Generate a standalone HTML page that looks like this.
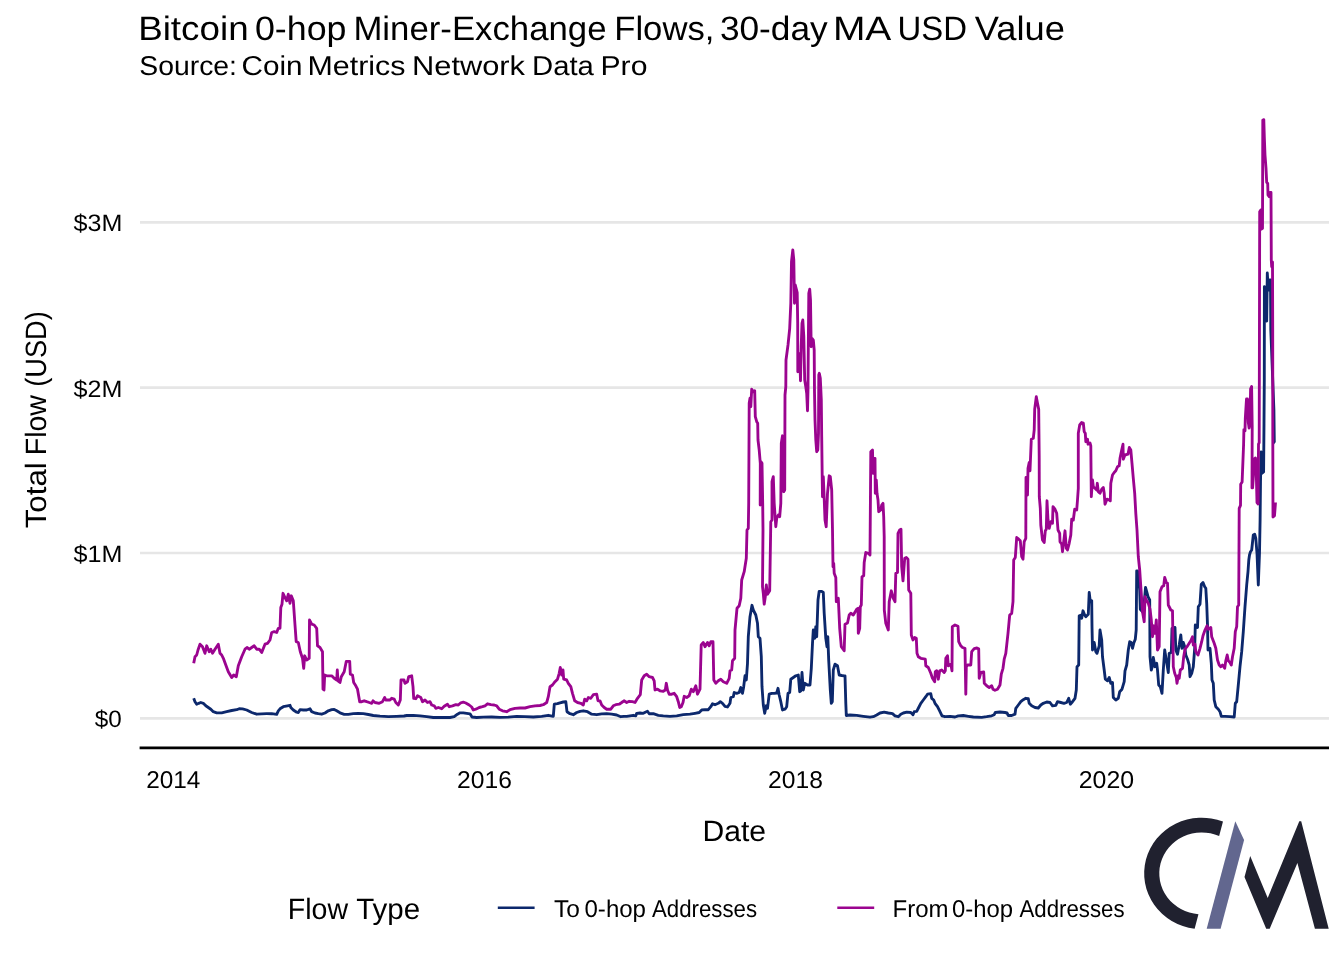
<!DOCTYPE html>
<html lang="en">
<head>
<meta charset="utf-8">
<title>Bitcoin 0-hop Miner-Exchange Flows</title>
<style>
html,body{margin:0;padding:0;background:#ffffff;}
body{width:1344px;height:960px;overflow:hidden;}
svg{display:block;will-change:transform;}
text{font-family:"Liberation Sans",sans-serif;fill:#000000;text-rendering:geometricPrecision;}
</style>
</head>
<body>
<svg width="1344" height="960" viewBox="0 0 1344 960">
<rect x="0" y="0" width="1344" height="960" fill="#ffffff"/>

<g stroke="#e6e6e6" stroke-width="2.7" fill="none">
<line x1="140" y1="222.4" x2="1329" y2="222.4"/>
<line x1="140" y1="387.7" x2="1329" y2="387.7"/>
<line x1="140" y1="553.0" x2="1329" y2="553.0"/>
<line x1="140" y1="718.4" x2="1329" y2="718.4"/>
</g>
<path d="M193.7,698.3 L195.0,701.7 L196.7,704.2 L198.7,703.3 L200.8,702.5 L203.3,703.3 L205.8,705.8 L208.3,707.5 L210.8,709.2 L213.3,711.7 L216.7,712.8 L221.7,712.8 L226.7,711.7 L231.7,710.5 L236.7,709.7 L239.2,708.7 L242.5,708.8 L246.7,710.0 L251.7,712.5 L256.7,714.2 L261.7,713.8 L266.7,713.7 L271.7,713.7 L276.7,714.3 L278.3,710.8 L280.0,708.8 L283.3,706.7 L287.5,705.8 L290.0,705.3 L290.8,707.5 L293.3,710.0 L296.7,712.2 L298.3,712.5 L300.0,709.7 L303.3,710.0 L306.7,710.0 L310.0,708.8 L311.7,711.7 L315.0,713.0 L318.3,713.7 L321.7,714.2 L325.0,713.0 L328.3,710.8 L331.7,709.7 L334.2,709.5 L336.7,710.8 L340.0,712.8 L344.2,714.3 L348.3,714.3 L353.3,713.7 L358.3,713.3 L363.3,713.7 L368.3,714.5 L373.3,715.5 L380.0,716.2 L388.3,716.7 L396.7,716.3 L404.0,716.0 L406.7,715.5 L413.3,715.3 L420.0,715.8 L426.7,716.7 L433.3,717.5 L441.7,717.5 L450.0,717.5 L454.2,716.7 L457.5,714.2 L460.0,712.8 L463.3,712.8 L466.7,713.3 L470.0,713.8 L472.0,717.0 L476.7,717.5 L483.3,717.2 L491.7,717.0 L500.0,717.3 L508.3,717.2 L516.7,716.3 L525.0,716.7 L533.3,717.0 L541.7,716.3 L548.3,715.3 L550.8,715.8 L553.3,716.3 L554.3,704.2 L557.5,703.7 L560.0,702.8 L563.3,702.0 L565.8,701.7 L567.0,711.7 L570.0,713.7 L573.3,714.7 L576.7,712.5 L580.0,711.3 L583.3,710.8 L587.5,711.7 L591.7,714.2 L596.7,714.7 L601.7,713.8 L606.7,713.7 L611.7,714.2 L616.7,715.0 L620.8,716.7 L624.0,716.3 L626.7,716.3 L633.3,715.3 L635.8,715.8 L636.7,713.3 L640.0,713.0 L643.3,713.3 L645.8,712.0 L647.5,711.3 L649.2,713.7 L653.3,713.7 L658.3,715.3 L663.3,715.8 L670.0,716.3 L676.7,715.8 L683.3,714.7 L690.0,714.2 L695.0,713.3 L699.2,712.5 L701.7,710.0 L705.0,709.7 L708.3,709.7 L710.8,706.7 L712.5,703.8 L715.0,704.7 L718.3,703.3 L720.3,701.7 L722.5,703.3 L725.0,706.3 L727.5,707.0 L730.0,703.3 L730.8,697.5 L733.3,696.7 L734.2,692.5 L736.7,693.3 L739.2,692.5 L740.8,687.5 L742.5,693.3 L743.7,686.7 L745.0,675.8 L746.3,680.0 L747.5,663.3 L748.3,636.7 L750.0,616.7 L752.0,605.3 L753.3,610.0 L755.8,615.0 L757.5,623.3 L758.3,636.7 L760.0,638.3 L761.3,656.7 L762.0,686.7 L763.3,705.0 L764.7,713.3 L766.3,705.8 L767.5,708.3 L769.2,694.2 L771.7,693.3 L774.2,693.3 L776.7,693.0 L778.0,688.3 L779.2,695.0 L780.8,701.7 L782.5,710.0 L785.0,709.2 L786.7,706.7 L788.0,693.3 L789.7,692.5 L790.8,679.2 L793.3,677.5 L795.8,675.8 L798.3,675.0 L799.7,691.7 L800.8,690.8 L802.0,672.5 L803.3,690.0 L804.7,683.3 L807.5,685.0 L810.0,685.0 L811.3,668.3 L812.5,643.3 L813.3,630.0 L814.7,638.3 L815.8,626.7 L816.7,636.7 L818.0,600.0 L819.2,591.3 L821.7,591.3 L823.3,592.5 L824.2,613.3 L825.8,638.3 L827.0,646.7 L827.8,636.7 L828.7,660.0 L830.3,690.0 L831.3,703.3 L832.3,701.7 L833.3,670.0 L835.0,664.2 L837.5,665.8 L839.2,675.0 L841.7,675.5 L844.0,675.8 L845.0,675.8 L845.8,703.3 L846.3,715.5 L850.0,715.0 L856.7,715.3 L863.3,716.3 L870.0,717.2 L873.3,716.7 L876.7,715.0 L880.0,713.0 L884.2,712.2 L888.3,713.0 L892.5,713.7 L895.0,715.8 L898.3,716.7 L900.8,714.2 L903.3,713.0 L906.7,712.2 L910.8,712.5 L913.0,714.7 L914.2,711.7 L916.7,711.3 L918.7,707.5 L920.8,703.3 L923.3,700.0 L925.8,696.7 L927.5,694.2 L930.8,693.7 L931.7,698.3 L933.7,700.0 L935.0,703.3 L937.5,706.7 L940.0,711.7 L942.0,715.8 L945.0,716.7 L950.0,716.3 L955.0,717.0 L958.3,715.8 L963.3,715.5 L968.3,716.3 L973.3,717.0 L981.7,717.3 L986.7,716.7 L991.7,715.8 L994.2,714.7 L995.3,712.5 L1000.0,712.0 L1005.0,712.5 L1007.0,713.0 L1008.3,715.5 L1011.7,715.5 L1015.0,714.2 L1015.8,708.3 L1018.3,705.0 L1020.8,701.7 L1023.3,699.7 L1025.8,698.3 L1028.3,698.7 L1029.2,703.3 L1031.7,705.8 L1035.0,707.5 L1038.3,708.0 L1040.8,705.0 L1043.3,703.3 L1046.7,702.0 L1050.0,702.5 L1052.5,705.8 L1055.8,705.3 L1057.5,701.7 L1060.8,702.5 L1064.0,703.3 L1066.7,702.5 L1068.7,698.3 L1070.3,704.2 L1072.5,701.7 L1075.0,698.3 L1076.3,690.0 L1077.0,666.7 L1078.7,665.0 L1079.2,615.8 L1081.3,615.0 L1081.7,618.3 L1083.0,610.8 L1084.7,615.0 L1085.8,616.7 L1088.3,614.2 L1089.2,592.5 L1090.3,601.7 L1091.7,600.8 L1092.0,626.7 L1092.5,650.0 L1094.2,642.5 L1095.8,651.7 L1097.0,653.3 L1099.2,645.8 L1100.0,630.0 L1101.7,640.0 L1102.5,656.7 L1104.2,670.0 L1105.3,679.2 L1107.5,680.8 L1109.2,677.5 L1110.8,683.3 L1112.5,682.5 L1113.3,697.5 L1115.8,700.0 L1118.3,698.3 L1119.7,691.7 L1122.0,689.2 L1124.2,681.7 L1125.0,670.8 L1126.7,665.0 L1128.3,650.0 L1129.7,641.7 L1131.3,642.5 L1132.5,648.3 L1133.7,643.3 L1135.3,639.2 L1136.2,630.0 L1136.7,570.8 L1137.5,570.8 L1138.3,575.0 L1139.7,590.0 L1140.3,609.2 L1142.5,611.7 L1144.2,603.3 L1145.5,587.5 L1146.7,591.7 L1148.0,596.7 L1149.7,600.0 L1150.0,656.7 L1151.3,670.0 L1152.5,665.8 L1153.3,657.5 L1155.0,666.7 L1156.7,663.3 L1157.5,670.0 L1158.7,685.0 L1160.3,686.7 L1162.0,693.3 L1163.3,670.0 L1164.7,650.0 L1166.3,660.0 L1168.3,672.5 L1169.2,653.3 L1171.3,652.5 L1172.0,628.3 L1175.0,627.5 L1175.8,650.0 L1177.5,654.2 L1179.2,645.0 L1180.8,635.0 L1182.0,648.3 L1183.3,642.5 L1184.7,646.7 L1185.8,655.0 L1187.5,659.2 L1189.2,665.0 L1190.0,676.7 L1191.7,673.3 L1193.3,666.7 L1194.7,648.3 L1195.3,625.0 L1197.5,627.5 L1198.3,606.7 L1200.0,604.2 L1201.3,584.2 L1203.0,582.5 L1204.7,586.7 L1205.8,588.3 L1206.7,603.3 L1207.5,625.0 L1208.0,650.0 L1210.0,648.3 L1211.3,663.3 L1212.0,680.0 L1213.3,683.3 L1214.2,700.0 L1215.8,706.7 L1218.3,709.2 L1220.0,711.7 L1221.3,716.3 L1225.0,716.3 L1230.0,716.7 L1234.2,717.0 L1235.3,703.3 L1236.7,701.7 L1238.3,685.0 L1240.0,666.7 L1241.7,651.7 L1243.3,631.7 L1245.0,606.7 L1246.7,585.0 L1248.0,571.7 L1248.8,560.0 L1249.5,555.0 L1250.5,551.7 L1251.7,550.0 L1253.3,535.0 L1254.7,534.2 L1255.8,538.3 L1257.0,553.3 L1258.3,585.0 L1259.5,553.0 L1260.1,520.0 L1260.5,482.0 L1261.1,452.0 L1261.8,473.3 L1263.6,471.9 L1264.0,423.8 L1264.3,380.0 L1264.4,286.7 L1265.3,320.0 L1266.7,321.0 L1267.3,273.0 L1268.3,290.0 L1269.7,280.0 L1270.5,280.0 L1270.8,330.0 L1273.9,410.0 L1274.3,442.5 L1275.0,443.0" fill="none" stroke="#0c286c" stroke-width="2.85" stroke-linejoin="round" stroke-linecap="butt"/>
<path d="M193.7,663.3 L195.0,656.7 L196.7,655.0 L198.0,650.0 L200.0,644.2 L202.5,646.7 L205.0,653.3 L206.7,645.8 L209.2,651.7 L210.8,649.2 L212.5,653.3 L215.0,649.2 L218.3,644.2 L220.0,653.3 L221.7,655.0 L223.7,659.2 L225.8,665.0 L228.3,671.7 L231.7,677.5 L233.7,675.0 L236.3,676.7 L238.3,665.8 L241.7,656.7 L245.0,649.2 L247.0,647.5 L249.2,649.2 L251.7,647.5 L254.2,645.8 L256.7,649.2 L259.2,649.2 L261.7,652.5 L265.0,644.2 L267.5,643.3 L270.0,640.0 L271.7,632.5 L274.2,631.7 L276.7,632.5 L278.3,628.3 L280.0,628.3 L280.8,607.5 L282.0,604.2 L283.0,593.3 L285.0,597.5 L286.7,600.8 L288.3,594.2 L290.0,603.3 L291.3,595.8 L293.3,600.8 L295.0,625.0 L296.2,641.7 L298.3,642.5 L300.3,651.7 L302.5,658.3 L303.7,668.3 L304.7,655.8 L306.7,660.0 L309.2,658.3 L309.5,620.0 L311.7,624.2 L314.2,625.0 L316.7,628.3 L317.5,645.8 L320.0,647.5 L322.5,651.7 L323.0,689.2 L324.0,690.0 L324.7,675.0 L326.7,675.8 L329.2,675.8 L331.7,675.8 L334.2,678.3 L336.7,680.0 L337.3,670.0 L338.0,680.8 L340.0,682.5 L341.3,676.7 L344.2,671.7 L346.3,661.3 L349.7,661.3 L350.3,674.2 L352.5,675.0 L353.7,682.5 L355.8,685.8 L357.5,689.2 L359.7,701.7 L361.7,701.7 L364.2,700.8 L366.7,701.7 L369.2,702.5 L371.7,703.3 L373.0,700.8 L375.0,702.5 L379.2,703.3 L382.5,701.7 L384.7,697.5 L385.8,700.0 L390.0,700.0 L391.7,698.3 L394.2,699.2 L395.8,702.5 L398.3,705.0 L400.3,700.0 L401.0,680.0 L404.0,680.0 L405.0,683.3 L407.5,681.7 L408.7,676.7 L411.7,675.8 L413.0,686.7 L413.7,698.3 L415.8,698.7 L417.5,695.8 L420.8,697.5 L422.5,701.7 L425.0,700.0 L427.5,702.5 L430.0,701.7 L431.7,705.0 L434.2,705.8 L435.8,708.3 L438.3,707.5 L441.7,708.7 L444.2,706.3 L447.5,704.2 L449.2,706.7 L452.5,705.8 L455.8,704.7 L458.3,705.0 L460.8,702.8 L463.3,702.2 L465.8,703.0 L469.2,705.0 L471.7,707.0 L473.3,710.0 L475.8,709.2 L479.2,707.5 L482.5,706.7 L485.0,705.8 L487.5,703.8 L490.8,704.7 L494.2,705.0 L496.7,705.8 L499.2,709.2 L502.5,710.8 L506.7,711.7 L510.0,709.7 L515.0,708.3 L520.0,708.0 L525.0,708.0 L530.0,706.7 L535.0,705.8 L540.0,705.5 L543.3,704.7 L546.7,702.5 L548.3,696.7 L550.0,686.7 L552.5,685.0 L555.0,681.7 L557.5,679.2 L559.2,673.3 L560.3,667.5 L561.7,675.0 L563.0,670.0 L563.7,679.2 L566.7,680.0 L568.3,683.3 L570.8,686.7 L572.5,693.3 L574.7,700.8 L577.5,702.5 L580.8,703.3 L583.3,705.0 L584.7,699.2 L586.7,700.8 L588.3,697.5 L590.8,698.3 L593.3,694.7 L596.7,694.2 L598.0,700.8 L600.0,700.8 L601.7,705.0 L604.2,707.5 L606.7,709.2 L610.8,709.2 L613.3,705.8 L615.8,704.7 L619.2,704.2 L621.7,702.5 L624.0,700.8 L626.7,702.5 L629.2,701.3 L632.5,701.7 L635.0,702.5 L637.5,698.3 L640.3,694.7 L641.7,680.0 L644.2,675.8 L646.7,674.2 L649.2,676.7 L652.5,677.5 L654.2,680.8 L655.0,690.0 L657.5,689.2 L660.0,690.8 L663.3,691.3 L665.3,690.0 L666.3,683.3 L667.5,690.0 L669.2,694.2 L671.7,694.2 L674.2,693.3 L676.7,696.7 L678.3,701.7 L679.7,707.5 L681.3,706.7 L683.0,702.5 L684.2,696.3 L686.7,697.5 L689.2,695.8 L691.3,689.2 L693.3,691.7 L695.8,685.8 L697.5,694.2 L700.0,689.2 L701.2,645.0 L703.3,642.5 L705.0,646.7 L707.5,642.5 L709.2,645.8 L710.8,641.7 L713.0,641.7 L713.8,680.0 L715.8,683.3 L718.3,680.8 L720.8,679.2 L723.3,681.7 L726.7,683.3 L729.2,678.3 L730.0,670.8 L731.7,670.0 L732.5,660.8 L734.7,658.3 L735.0,630.0 L737.0,608.3 L739.2,605.8 L740.8,598.3 L741.7,580.0 L744.2,571.7 L746.3,558.3 L747.0,530.0 L748.3,528.3 L748.7,503.3 L749.2,403.3 L750.0,398.3 L750.8,406.7 L751.7,389.2 L753.3,391.7 L754.7,390.8 L755.3,416.7 L756.7,421.7 L757.7,423.3 L758.0,440.0 L759.2,450.0 L760.3,463.3 L760.2,505.0 L761.0,461.7 L762.0,463.3 L762.7,503.3 L763.0,530.0 L762.5,586.7 L763.3,593.3 L764.2,604.2 L765.3,596.7 L766.3,585.0 L767.5,594.2 L769.7,590.8 L770.8,521.7 L772.0,520.0 L772.0,481.7 L773.3,476.7 L774.2,503.3 L775.8,526.7 L776.7,518.3 L778.3,515.0 L779.7,516.7 L780.8,503.3 L781.3,443.3 L782.5,435.8 L783.7,491.7 L784.7,490.0 L785.0,395.0 L785.8,386.7 L786.0,360.0 L788.0,345.0 L789.7,328.3 L790.8,303.3 L791.5,261.7 L792.8,250.0 L793.8,260.0 L794.5,303.3 L795.3,285.0 L797.2,292.5 L797.7,323.3 L797.8,371.7 L798.5,353.3 L799.2,365.0 L799.8,357.5 L800.5,380.8 L801.2,346.7 L802.0,323.3 L802.8,320.0 L803.8,336.7 L804.7,380.0 L805.8,386.7 L806.7,393.3 L807.5,410.8 L808.0,390.0 L808.3,346.7 L808.8,293.3 L809.7,289.2 L810.5,300.0 L811.2,346.7 L812.0,338.3 L813.3,340.0 L814.2,350.0 L814.5,391.7 L815.0,420.0 L815.8,440.0 L816.7,451.7 L817.8,450.0 L818.5,433.3 L818.8,375.0 L819.3,373.3 L820.3,378.3 L821.3,400.0 L821.7,436.7 L822.2,476.7 L822.5,496.7 L823.3,476.7 L824.2,498.3 L825.0,520.0 L826.2,526.7 L827.5,493.3 L829.2,475.8 L830.3,476.7 L831.7,490.0 L832.5,530.0 L833.0,566.7 L833.7,563.3 L834.2,573.3 L835.8,577.5 L836.3,601.7 L838.3,598.3 L839.7,628.3 L841.3,646.7 L844.2,650.8 L845.0,624.2 L847.5,623.0 L849.2,615.0 L850.8,613.3 L853.3,615.0 L856.7,609.2 L858.0,608.3 L858.3,633.3 L859.7,628.3 L860.3,606.7 L861.3,605.0 L862.0,576.7 L863.7,575.8 L864.2,562.5 L865.8,552.5 L868.3,553.3 L870.0,555.0 L870.8,451.7 L872.5,450.0 L873.0,473.3 L874.2,458.3 L875.0,458.3 L875.3,493.3 L876.3,480.0 L877.0,493.3 L878.0,500.0 L878.7,511.7 L880.8,510.0 L881.7,505.0 L883.0,503.3 L883.7,516.7 L884.2,536.7 L884.3,610.0 L885.8,623.3 L888.3,630.0 L889.2,601.7 L891.3,590.8 L893.3,598.3 L895.0,601.7 L895.8,573.3 L897.5,572.5 L898.0,533.3 L899.7,530.0 L901.0,529.2 L901.7,566.7 L903.0,580.8 L904.7,558.3 L906.3,557.5 L908.0,559.2 L908.7,590.0 L910.8,593.3 L911.3,635.0 L913.0,640.0 L914.7,637.5 L916.3,638.3 L917.0,653.3 L918.3,656.7 L920.8,658.3 L925.3,659.2 L925.8,665.8 L928.3,667.5 L930.8,673.3 L932.5,678.3 L934.7,681.7 L935.3,671.7 L936.7,670.8 L938.3,679.2 L939.7,670.8 L941.7,670.0 L944.2,672.5 L945.3,670.8 L945.8,658.3 L947.5,655.8 L948.3,665.8 L950.8,664.2 L952.0,670.8 L952.3,626.7 L955.0,625.0 L958.0,626.3 L958.7,641.7 L960.8,645.8 L962.5,647.5 L965.0,648.3 L965.8,694.2 L966.3,666.7 L967.5,665.0 L970.8,665.0 L971.7,651.7 L974.2,648.7 L977.0,648.0 L978.7,648.7 L979.2,678.3 L980.8,672.5 L983.7,672.0 L984.3,683.3 L986.7,685.8 L989.2,687.5 L991.7,685.8 L993.0,689.2 L995.0,690.3 L997.5,689.2 L1000.0,685.0 L1001.3,674.2 L1003.0,668.3 L1004.2,659.2 L1005.8,653.3 L1008.0,633.3 L1009.7,615.0 L1011.7,613.3 L1013.0,601.7 L1013.7,560.0 L1015.3,557.5 L1016.7,537.5 L1018.7,539.2 L1020.3,540.8 L1021.7,556.7 L1023.0,559.2 L1024.2,541.7 L1025.8,538.3 L1026.0,477.5 L1027.5,495.0 L1028.0,468.3 L1029.2,462.5 L1030.0,470.8 L1031.3,439.2 L1033.3,438.3 L1034.2,430.0 L1034.7,409.2 L1036.3,396.7 L1037.5,403.3 L1038.7,409.2 L1039.2,456.7 L1039.3,496.7 L1040.3,508.3 L1040.8,525.0 L1042.5,540.0 L1044.2,542.5 L1045.3,530.8 L1046.3,529.2 L1047.0,500.8 L1048.0,520.0 L1049.2,528.3 L1050.8,521.7 L1052.5,523.3 L1053.0,506.7 L1055.0,509.2 L1056.7,513.3 L1058.0,530.0 L1059.7,533.3 L1060.0,541.7 L1061.7,544.2 L1062.5,551.7 L1063.7,541.7 L1065.0,530.8 L1066.3,548.3 L1067.5,550.0 L1069.2,543.3 L1070.8,535.0 L1071.7,519.2 L1073.3,520.0 L1074.7,509.2 L1076.7,510.0 L1077.5,500.0 L1078.3,488.3 L1078.3,433.3 L1079.7,425.0 L1081.7,422.5 L1083.3,423.0 L1084.2,431.7 L1085.3,433.3 L1085.8,441.7 L1087.5,439.2 L1088.0,444.2 L1090.0,443.0 L1090.8,445.8 L1091.3,496.7 L1092.5,480.0 L1093.3,486.7 L1095.0,488.3 L1096.7,490.0 L1097.3,483.3 L1098.3,491.7 L1100.0,493.3 L1101.7,489.2 L1103.3,487.5 L1104.2,493.3 L1105.0,504.2 L1107.0,499.2 L1109.2,500.0 L1110.3,500.8 L1110.8,483.3 L1112.5,475.0 L1114.2,472.5 L1115.8,470.8 L1117.5,466.7 L1119.2,465.8 L1120.0,458.3 L1121.7,450.0 L1123.0,444.2 L1123.3,459.2 L1125.0,455.0 L1128.0,454.2 L1129.3,447.5 L1130.8,450.0 L1132.0,463.3 L1133.3,478.3 L1134.7,493.3 L1135.8,513.3 L1137.0,530.0 L1138.3,556.7 L1139.7,570.0 L1140.8,586.7 L1142.5,611.7 L1144.2,621.7 L1145.0,596.7 L1146.7,600.8 L1148.3,603.3 L1150.0,609.2 L1151.3,620.0 L1152.5,636.7 L1153.7,625.8 L1155.0,633.3 L1156.3,620.0 L1157.5,650.0 L1159.2,646.7 L1160.0,591.7 L1162.0,586.7 L1163.7,585.8 L1164.7,577.5 L1166.3,582.5 L1167.5,583.3 L1168.3,605.0 L1170.8,610.0 L1172.5,610.8 L1173.3,666.7 L1174.7,673.3 L1176.3,677.5 L1177.0,683.3 L1178.3,675.8 L1179.2,678.3 L1180.3,670.0 L1182.5,668.3 L1183.7,656.7 L1185.0,649.2 L1187.0,646.7 L1189.2,643.3 L1190.8,640.8 L1192.5,636.7 L1193.3,645.0 L1195.0,644.2 L1195.8,651.7 L1198.0,655.0 L1200.0,648.3 L1201.7,641.7 L1203.0,635.8 L1205.0,630.0 L1207.0,625.8 L1208.3,629.2 L1210.8,627.5 L1211.7,636.7 L1214.2,643.3 L1215.8,648.3 L1217.5,660.0 L1219.2,665.0 L1220.8,666.7 L1222.5,665.0 L1224.7,668.3 L1225.8,660.8 L1227.2,655.0 L1228.3,660.8 L1230.0,662.5 L1231.3,665.0 L1232.5,656.7 L1234.2,648.3 L1235.3,631.7 L1236.7,626.7 L1237.5,606.7 L1238.7,605.0 L1239.2,508.3 L1240.5,505.4 L1240.7,484.3 L1242.1,482.1 L1243.6,444.2 L1243.9,429.6 L1245.0,431.0 L1245.3,418.6 L1246.5,399.0 L1247.5,399.0 L1248.3,422.3 L1249.1,428.1 L1249.9,423.8 L1250.6,388.8 L1251.6,386.6 L1252.2,426.7 L1252.0,487.9 L1252.6,487.9 L1253.4,476.3 L1254.4,458.8 L1255.5,458.0 L1256.3,473.3 L1257.0,502.5 L1258.2,504.0 L1258.5,444.2 L1259.2,442.7 L1259.7,211.7 L1260.8,210.0 L1261.3,229.2 L1262.5,228.3 L1262.8,120.0 L1263.8,119.7 L1264.3,136.7 L1265.0,155.0 L1266.0,168.3 L1266.7,182.5 L1267.7,183.3 L1268.0,195.0 L1269.2,196.7 L1270.0,192.5 L1271.0,192.5 L1271.3,260.0 L1271.7,266.7 L1272.5,262.0 L1272.7,330.0 L1272.8,438.0 L1273.0,517.0 L1274.5,515.6 L1275.5,502.5" fill="none" stroke="#9b048f" stroke-width="2.85" stroke-linejoin="round" stroke-linecap="butt"/>
<line x1="139.6" y1="747.9" x2="1329" y2="747.9" stroke="#000000" stroke-width="2.6"/>
<line x1="497.8" y1="907.8" x2="534.6" y2="907.8" stroke="#0c286c" stroke-width="2.5"/>
<line x1="837.3" y1="907.8" x2="874.2" y2="907.8" stroke="#9b048f" stroke-width="2.5"/>
<path fill="#20212f" d="M1222.99,821.61 A57.6,55.7 0 1 0 1194.62,928.66 L1198.46,914.17 A42.5,40.9 0 1 1 1219.16,836.07 Z"/>
<polygon points="1235.3,821.2 1244.1,840.1 1220.6,928.75 1206.7,928.75" fill="#62678f"/>
<polygon points="1250.2,855.9 1244.5,877.1 1266.2,928.75 1269.7,928.75 1297.4,862.9 1314.9,928.75 1328.7,928.75 1301.2,821.2 1299.3,821.2 1267.7,897.9" fill="#20212f"/>
<text x="138.15" y="39.60" font-size="33.80" textLength="110.50" lengthAdjust="spacingAndGlyphs">Bitcoin</text>
<text x="254.90" y="39.60" font-size="33.80" textLength="91.60" lengthAdjust="spacingAndGlyphs">0-hop</text>
<text x="353.40" y="39.60" font-size="33.80" textLength="253.10" lengthAdjust="spacingAndGlyphs">Miner-Exchange</text>
<text x="614.25" y="39.60" font-size="33.80" textLength="100.15" lengthAdjust="spacingAndGlyphs">Flows,</text>
<text x="719.90" y="39.60" font-size="33.80" textLength="107.85" lengthAdjust="spacingAndGlyphs">30-day</text>
<text x="832.90" y="39.60" font-size="33.80" textLength="58.50" lengthAdjust="spacingAndGlyphs">MA</text>
<text x="897.50" y="39.60" font-size="33.80" textLength="69.50" lengthAdjust="spacingAndGlyphs">USD</text>
<text x="974.75" y="39.60" font-size="33.80" textLength="90.15" lengthAdjust="spacingAndGlyphs">Value</text>
<text x="139.25" y="75.40" font-size="27.20" textLength="97.75" lengthAdjust="spacingAndGlyphs">Source:</text>
<text x="241.50" y="75.40" font-size="27.20" textLength="61.00" lengthAdjust="spacingAndGlyphs">Coin</text>
<text x="307.50" y="75.40" font-size="27.20" textLength="98.00" lengthAdjust="spacingAndGlyphs">Metrics</text>
<text x="412.00" y="75.40" font-size="27.20" textLength="113.00" lengthAdjust="spacingAndGlyphs">Network</text>
<text x="532.00" y="75.40" font-size="27.20" textLength="61.85" lengthAdjust="spacingAndGlyphs">Data</text>
<text x="600.50" y="75.40" font-size="27.20" textLength="46.90" lengthAdjust="spacingAndGlyphs">Pro</text>
<text x="73.55" y="230.70" font-size="23.80" textLength="48.85" lengthAdjust="spacingAndGlyphs">$3M</text>
<text x="73.55" y="396.90" font-size="23.80" textLength="48.85" lengthAdjust="spacingAndGlyphs">$2M</text>
<text x="73.55" y="562.20" font-size="23.80" textLength="48.85" lengthAdjust="spacingAndGlyphs">$1M</text>
<text x="94.85" y="726.50" font-size="23.80" textLength="27.00" lengthAdjust="spacingAndGlyphs">$0</text>
<text x="146.25" y="788.20" font-size="24.30" textLength="54.15" lengthAdjust="spacingAndGlyphs">2014</text>
<text x="457.10" y="788.20" font-size="24.30" textLength="54.80" lengthAdjust="spacingAndGlyphs">2016</text>
<text x="768.10" y="788.20" font-size="24.30" textLength="54.80" lengthAdjust="spacingAndGlyphs">2018</text>
<text x="1078.75" y="788.20" font-size="24.30" textLength="55.40" lengthAdjust="spacingAndGlyphs">2020</text>
<text x="702.50" y="840.90" font-size="29.40" textLength="63.60" lengthAdjust="spacingAndGlyphs">Date</text>
<text x="287.75" y="918.70" font-size="29.40" textLength="60.25" lengthAdjust="spacingAndGlyphs">Flow</text>
<text x="356.15" y="918.70" font-size="29.40" textLength="63.95" lengthAdjust="spacingAndGlyphs">Type</text>
<text x="554.00" y="916.50" font-size="24.30" textLength="25.85" lengthAdjust="spacingAndGlyphs">To</text>
<text x="584.50" y="916.50" font-size="24.30" textLength="61.50" lengthAdjust="spacingAndGlyphs">0-hop</text>
<text x="652.00" y="916.50" font-size="24.30" textLength="105.10" lengthAdjust="spacingAndGlyphs">Addresses</text>
<text x="892.50" y="916.50" font-size="24.30" textLength="56.00" lengthAdjust="spacingAndGlyphs">From</text>
<text x="952.00" y="916.50" font-size="24.30" textLength="61.00" lengthAdjust="spacingAndGlyphs">0-hop</text>
<text x="1019.50" y="916.50" font-size="24.30" textLength="105.10" lengthAdjust="spacingAndGlyphs">Addresses</text>
<text x="46.20" y="528.25" font-size="29.40" textLength="66.00" lengthAdjust="spacingAndGlyphs" transform="rotate(-90 46.20 528.25)">Total</text>
<text x="46.20" y="455.25" font-size="29.40" textLength="60.25" lengthAdjust="spacingAndGlyphs" transform="rotate(-90 46.20 455.25)">Flow</text>
<text x="46.20" y="386.75" font-size="29.40" textLength="75.50" lengthAdjust="spacingAndGlyphs" transform="rotate(-90 46.20 386.75)">(USD)</text>
</svg>
</body>
</html>
